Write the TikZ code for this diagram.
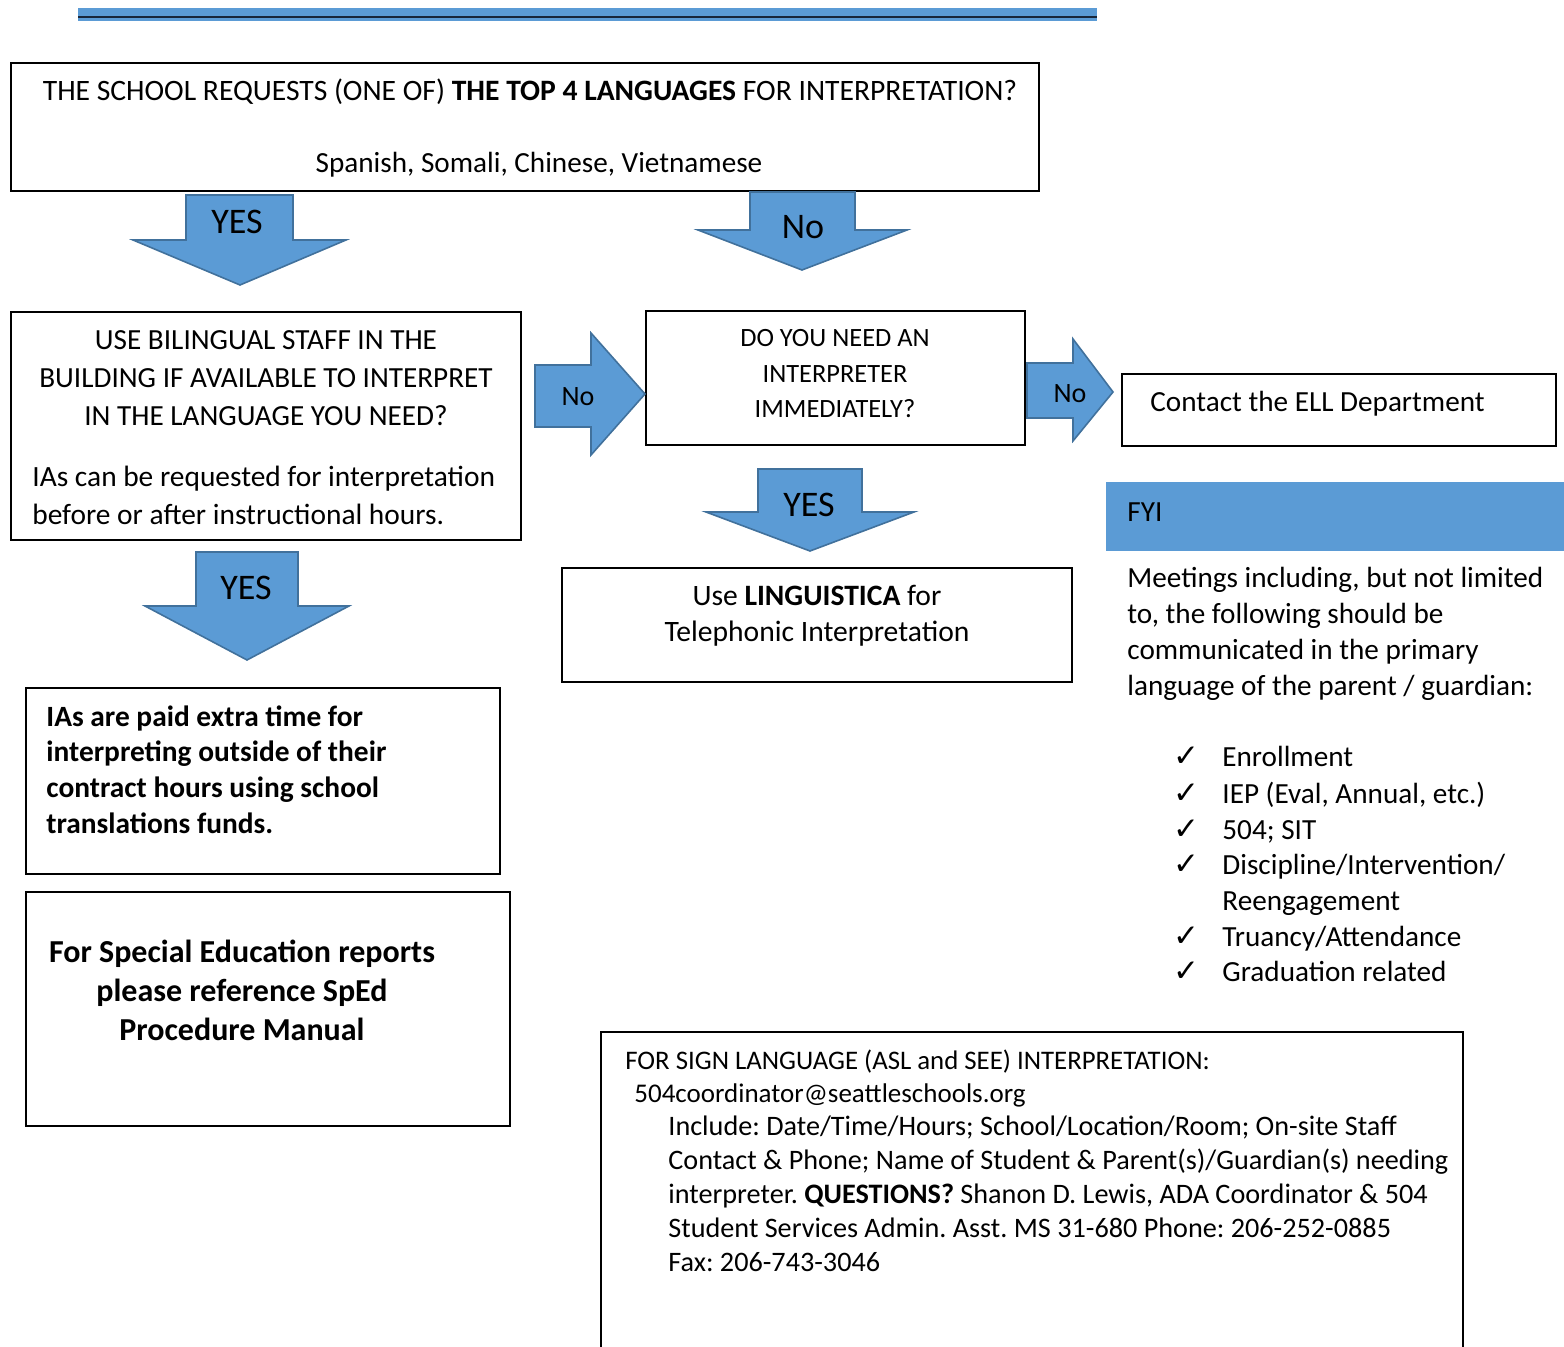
\documentclass[tikz,border=0pt]{standalone}
\usepackage{fontspec}
\setmainfont{Carlito}
\newfontfamily\checkfont{DejaVu Sans}
\usetikzlibrary{positioning}
\definecolor{officeblue}{RGB}{91,155,213}
\definecolor{officeedge}{RGB}{65,113,156}
\definecolor{barline}{RGB}{24,38,58}
\frenchspacing

\begin{document}
\begin{tikzpicture}[
        x=0.5pt, y=-0.5pt,
        box/.style={draw, line width=1pt, inner sep=0pt},
        txt/.style={inner sep=0pt, font=\fontsize{14.6}{18}\selectfont},
        para/.style={txt, execute at begin node={\spaceskip=\fontdimen2\font\xspaceskip=0pt\relax}},
        small/.style={para, font=\fontsize{13.2}{17.75}\selectfont},
        bigarrow/.style={fill=officeblue, draw=officeedge, line width=0.8pt, line join=miter},
        arrowlabel/.style={inner sep=0pt, font=\fontsize{18}{20}\selectfont}
    ]
    \useasboundingbox (0,0) rectangle (1564,1347);
    \clip (0,0) rectangle (1564,1347);

    % header rule
    \fill[officeblue] (78,8) rectangle (1097,21);
    \draw[barline, line width=1pt] (78,17.5) -- (1097,17.5);

    % boxes
    \node[box, minimum width=514pt, minimum height=64pt] (request) at (525,127) {};
    \node[box, minimum width=255pt, minimum height=114pt] (bilingual) at (266,426) {};
    \node[box, minimum width=189.5pt, minimum height=67pt] (immediate) at (835.5,378) {};
    \node[box, minimum width=217pt, minimum height=36pt] (ell) at (1339,410) {};
    \node[box, minimum width=255pt, minimum height=57pt] (linguistica) at (817,625) {};
    \node[box, minimum width=237pt, minimum height=93pt] (paid) at (263,781) {};
    \node[box, minimum width=242pt, minimum height=117pt] (sped) at (268,1009) {};
    \node[box, minimum width=431pt, minimum height=170pt, anchor=north west] (sign) at (600,1031) {};
    \node[fill=officeblue, minimum width=229pt, minimum height=34.5pt, inner sep=0pt] (fyibar) at (1335,516.5) {};

    % block arrows
    \draw[bigarrow] (186,195) -- (293,195) -- (293,240) -- (346,240) -- (240,285) -- (133,240) -- (186,240) -- cycle;
    \node[arrowlabel] (yestop) at (237,222) {YES};
    \draw[bigarrow] (750,192) -- (855,192) -- (855,230) -- (907,230) -- (802,270) -- (698,230) -- (750,230) -- cycle;
    \node[arrowlabel] (notop) at (803,227) {No};
    \draw[bigarrow] (535,365) -- (591,365) -- (591,333) -- (645,394) -- (591,455) -- (591,427) -- (535,427) -- cycle;
    \node[arrowlabel, font=\fontsize{14}{16}\selectfont] (noleft) at (578,397) {No};
    \draw[bigarrow] (1027,363) -- (1073,363) -- (1073,339) -- (1113,392) -- (1073,441) -- (1073,418) -- (1027,418) -- cycle;
    \node[arrowlabel, font=\fontsize{14}{16}\selectfont] (noright) at (1070,394) {No};
    \draw[bigarrow] (758,469) -- (862,469) -- (862,512) -- (914,512) -- (810,551) -- (706,512) -- (758,512) -- cycle;
    \node[arrowlabel] (yesmid) at (809,505) {YES};
    \draw[bigarrow] (196,552) -- (298,552) -- (298,606) -- (349,606) -- (247,660) -- (145,606) -- (196,606) -- cycle;
    \node[arrowlabel] (yeslow) at (246,588) {YES};

    % texts
    \node[txt, anchor=base, font=\fontsize{14.8}{18}\selectfont] (reqline) at (530,101) {THE SCHOOL REQUESTS (ONE OF) \textbf{THE TOP 4 LANGUAGES} FOR INTERPRETATION?};
    \node[txt, anchor=base] (langs) at (539,173) {Spanish, Somali, Chinese, Vietnamese};
    \node[para, anchor=base, text width=250pt, align=center, font=\fontsize{14.6}{19}\selectfont] (bilingualq) at (266,350)
        {USE BILINGUAL STAFF IN THE\\BUILDING IF AVAILABLE TO INTERPRET\\IN THE LANGUAGE YOU NEED?};
    \node[para, anchor=base west, text width=245pt, align=left, font=\fontsize{14.7}{19}\selectfont] (iasnote) at (32,487)
        {IAs can be requested for interpretation\\before or after instructional hours.};
    \node[small, anchor=base, text width=180pt, align=center] (immq) at (835,347)
        {DO YOU NEED AN\\INTERPRETER\\IMMEDIATELY?};
    \node[txt, anchor=base west] (elltext) at (1150,412) {Contact the ELL Department};
    \node[txt, anchor=base west] (fyi) at (1127,522) {FYI};
    \node[para, anchor=base west, text width=222pt, align=left, font=\fontsize{14.6}{17.85}\selectfont] (fyinote) at (1127,588)
        {Meetings including, but not limited\\to, the following should be\\communicated in the primary\\language of the parent / guardian:};
    \foreach \y/\item [count=\i] in {758/Enrollment, 794/{IEP (Eval, Annual, etc.)}, 830/{504; SIT}, 865/{Discipline/Intervention/}, 937/{Truancy/Attendance}, 972/{Graduation related}} {
        \node[inner sep=0pt, anchor=base, font=\checkfont\bfseries\fontsize{15.5}{16}\selectfont] (check\i) at (1186,\y+9) {✓};
        \node[txt, anchor=base west] (item\i) at (1222,\y+9) {\item};
    }
    \node[txt, anchor=base west] (itemcont) at (1222,910) {Reengagement};
    \node[para, anchor=base, text width=250pt, align=center, font=\fontsize{14.8}{18}\selectfont] (lingtext) at (817,606)
        {Use \textbf{LINGUISTICA} for\\Telephonic Interpretation};
    \node[para, anchor=base west, text width=230pt, align=left, font=\fontsize{14.7}{17.85}\selectfont\bfseries] (paidtext) at (46,726)
        {IAs are paid extra time for\\interpreting outside of their\\contract hours using school\\translations funds.};
    \node[para, anchor=base, text width=235pt, align=center, font=\fontsize{16}{19.5}\selectfont\bfseries] (spedtext) at (242,962)
        {For Special Education reports\\please reference SpEd\\Procedure Manual};
    \node[txt, anchor=base west, font=\fontsize{13.4}{17}\selectfont] (signhead) at (625,1069)
        {FOR SIGN LANGUAGE (ASL and SEE) INTERPRETATION:};
    \node[txt, anchor=base west, font=\fontsize{13.5}{17}\selectfont] (signmail) at (634,1102)
        {504coordinator@seattleschools.org};
    \node[para, anchor=base west, text width=425pt, align=left, font=\fontsize{14.1}{17}\selectfont] (signbody) at (668,1135)
        {Include: Date/Time/Hours; School/Location/Room; On-site Staff\\
         Contact \& Phone; Name of Student \& Parent(s)/Guardian(s) needing\\
         interpreter. \textbf{QUESTIONS?} Shanon D. Lewis, ADA Coordinator \& 504\\
         Student Services Admin. Asst. MS 31-680 Phone: 206-252-0885\\
         Fax: 206-743-3046};
\end{tikzpicture}
\end{document}
